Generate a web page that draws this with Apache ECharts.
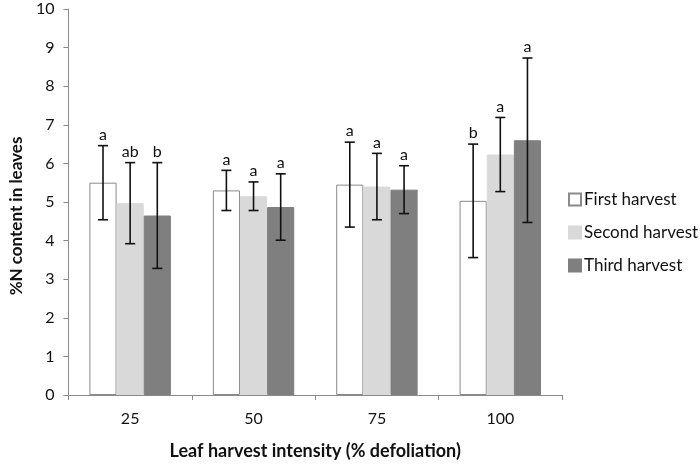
<!DOCTYPE html>
<html>
<head>
<meta charset="utf-8">
<script src="https://cdn.jsdelivr.net/npm/echarts@6/dist/echarts.min.js"></script>
<style>
  html, body { margin: 0; padding: 0; background: #fff; }
  #chart { width: 700px; height: 465px; }
</style>
</head>
<body>
<div id="chart"></div>
<script>
// leaf harvest intensity
const categories = ['25', '50', '75', '100'];
const seriesNames = ['First harvest', 'Second harvest', 'Third harvest'];

// mean %N per harvest
const firstHarvest = [5.5, 5.3, 5.45, 5.03];
const secondHarvest = [4.97, 5.15, 5.4, 6.23];
const thirdHarvest = [4.65, 4.87, 5.32, 6.6];

// error bar half-widths
const firstErr = [0.96, 0.52, 1.1, 1.47];
const secondErr = [1.05, 0.37, 0.86, 0.96];
const thirdErr = [1.37, 0.86, 0.62, 2.13];

// significance letters
const firstLetters = ['a', 'a', 'a', 'b'];
const secondLetters = ['ab', 'a', 'a', 'a'];
const thirdLetters = ['b', 'a', 'a', 'a'];

const yTicks = [0, 10, 1]; // min, max, interval

const values = [firstHarvest, secondHarvest, thirdHarvest];
const errs = [firstErr, secondErr, thirdErr];
const letters = [firstLetters, secondLetters, thirdLetters];
const colors = ['#ffffff', '#d9d9d9', '#7f7f7f'];
const borders = ['#8a8a8a', '#d9d9d9', '#7f7f7f'];
const barRatio = 0.22;

const chart = echarts.init(document.getElementById('chart'));

const barSeries = seriesNames.map((name, i) => ({
  name: name,
  type: 'bar',
  data: values[i],
  barWidth: (barRatio * 100) + '%',
  barGap: '0%',
  itemStyle: { color: colors[i], borderColor: borders[i], borderWidth: 1 },
  z: 2
}));

const errSeries = seriesNames.map((name, i) => ({
  type: 'custom',
  name: name + ' err',
  z: 5,
  silent: true,
  data: categories.map((c, k) => [k, values[i][k], errs[i][k], letters[i][k]]),
  renderItem: function (params, api) {
    const k = api.value(0);
    const mean = api.value(1);
    const e = api.value(2);
    const bandW = api.size([1, 0])[0];
    const barW = bandW * barRatio;
    const cx = api.coord([k, mean])[0] + (i - 1) * barW;
    const top = api.coord([k, mean + e])[1];
    const bot = api.coord([k, mean - e])[1];
    const cap = 5;
    const st = { stroke: '#111', lineWidth: 1.6 };
    return {
      type: 'group',
      children: [
        { type: 'line', shape: { x1: cx, y1: top, x2: cx, y2: bot }, style: st },
        { type: 'line', shape: { x1: cx - cap, y1: top, x2: cx + cap, y2: top }, style: st },
        { type: 'line', shape: { x1: cx - cap, y1: bot, x2: cx + cap, y2: bot }, style: st },
        {
          type: 'text',
          style: {
            text: letters[i][k],
            x: cx, y: top - 3,
            align: 'center', verticalAlign: 'bottom',
            font: '16px Lato', fill: '#111'
          }
        }
      ]
    };
  }
}));

chart.setOption({
  animation: false,
  textStyle: { fontFamily: 'Lato' },
  grid: { left: 63, right: 138, top: 9, bottom: 67 },
  legend: {
    orient: 'vertical',
    left: 563,
    top: 186,
    icon: 'rect',
    itemWidth: 12,
    itemHeight: 12,
    itemGap: 16,
    data: seriesNames,
    textStyle: { fontSize: 17, color: '#111', fontFamily: 'Lato', padding: [0, 0, 0, -2] }
  },
  xAxis: {
    type: 'category',
    data: categories,
    name: 'Leaf harvest intensity (% defoliation)',
    nameLocation: 'middle',
    nameGap: 47,
    nameTextStyle: { fontSize: 18, fontWeight: 'bold', color: '#111' },
    axisLine: { lineStyle: { color: '#8a8a8a', width: 1 } },
    axisTick: { show: true, length: 5, lineStyle: { color: '#8a8a8a' } },
    axisLabel: { fontSize: 16, color: '#111', margin: 16 }
  },
  yAxis: {
    type: 'value',
    min: yTicks[0],
    max: yTicks[1],
    interval: yTicks[2],
    name: '%N content in leaves',
    nameLocation: 'middle',
    nameGap: 42,
    nameTextStyle: { fontSize: 17, fontWeight: 'bold', color: '#111', padding: [0, 28, 0, 0] },
    axisLine: { show: true, lineStyle: { color: '#8a8a8a', width: 1 } },
    axisTick: { show: true, length: 5, lineStyle: { color: '#8a8a8a' } },
    splitLine: { show: false },
    axisLabel: { fontSize: 16, color: '#111', margin: 14 }
  },
  series: barSeries.concat(errSeries)
});
</script>
</body>
</html>
